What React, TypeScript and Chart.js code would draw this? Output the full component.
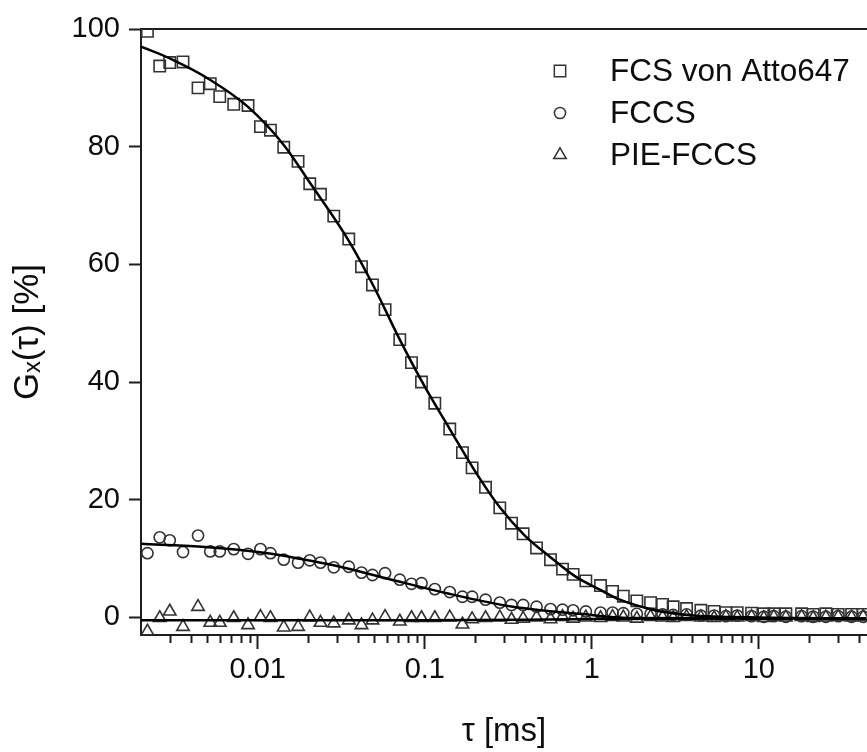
import React, { useEffect, useRef } from 'react';
import { Chart, registerables } from 'chart.js';
import { drawPoint } from 'chart.js/helpers';

Chart.register(...registerables);

// lag times tau [ms] shared by the three measured curves
const tau = [
  0.002185, 0.002589, 0.002972, 0.003569, 0.00439, 0.005195, 0.005923, 0.007181, 0.008747, 0.01038,
  0.01191, 0.01431, 0.01743, 0.02048, 0.02374, 0.02852, 0.03507, 0.04178, 0.04862, 0.05785,
  0.07084, 0.08325, 0.09556, 0.1148, 0.1411, 0.1681, 0.192, 0.231, 0.2812, 0.3305,
  0.3879, 0.4667, 0.5658, 0.6677, 0.7727, 0.9207, 1.127, 1.331, 1.544, 1.86,
  2.247, 2.651, 3.068, 3.691, 4.496, 5.398, 6.344, 7.418, 9.044, 10.71,
  12.29, 14.51, 18.02, 21.14, 25.19, 29.86, 35.92, 42.13,
];

const fcsAtto = [
  99.6, 93.7, 94.3, 94.4, 90.0, 90.7, 88.5, 87.2, 87.0, 83.4,
  82.8, 79.9, 77.5, 73.7, 71.9, 68.2, 64.3, 59.6, 56.5, 52.3,
  47.2, 43.3, 40.0, 36.4, 32.0, 28.0, 25.4, 22.1, 18.6, 16.0,
  14.2, 11.8, 9.8, 8.2, 7.3, 6.2, 5.4, 4.4, 3.6, 2.8,
  2.5, 2.2, 1.8, 1.5, 1.2, 1.0, 0.8, 0.8, 0.7, 0.6,
  0.6, 0.6, 0.6, 0.5, 0.6, 0.5, 0.5, 0.5,
];

const fccs = [
  10.9, 13.6, 13.1, 11.1, 13.9, 11.2, 11.2, 11.6, 10.8, 11.6,
  10.9, 9.8, 9.3, 9.7, 9.3, 8.5, 8.6, 7.6, 7.2, 7.5,
  6.4, 5.7, 5.8, 4.8, 4.3, 3.5, 3.5, 3.0, 2.5, 2.1,
  2.1, 1.8, 1.4, 1.3, 1.2, 1.0, 0.8, 0.8, 0.7, 0.6,
  0.6, 0.5, 0.4, 0.5, 0.3, 0.3, 0.2, 0.3, 0.2, 0.1,
  0.2, 0.1, 0.2, 0.1, 0.1, 0.2, 0.1, 0.1,
];

const pieFccs = [
  -2.4, -0.1, 1.0, -1.6, 1.8, -0.9, -0.9, -0.1, -1.3, 0.1,
  -0.1, -1.7, -1.6, 0.0, -0.9, -1.0, -0.5, -1.3, -0.5, 0.1,
  -0.7, -0.1, -0.1, -0.1, 0.0, -1.2, -0.3, -0.1, 0.0, -0.4,
  -0.2, 0.0, -0.3, 0.1, -0.2, 0.0, -0.1, 0.1, 0.0, -0.2,
  0.1, 0.0, -0.1, 0.1, 0.0, -0.1, 0.1, 0.0, 0.1, -0.1,
  0.1, 0.0, 0.1, -0.1, 0.0, 0.1, 0.0, 0.1,
];

// fitted curves
const fitTauFcs = [0.002, 0.002972, 0.005232, 0.008711, 0.01431, 0.02048, 0.03507, 0.05019, 0.07084, 0.1, 0.1411, 0.1993, 0.2812, 0.397, 0.5603, 0.7911, 1.117, 1.472, 2.319, 3.706, 8.834, 44];
const fitFcs = [97.0, 95.0, 91.3, 86.8, 80.3, 73.9, 64.0, 55.9, 47.2, 39.2, 32.0, 24.9, 18.7, 13.9, 10.3, 7.0, 4.7, 3.0, 1.3, 0.4, 0.0, -0.2];

const fitTauFccs = [0.002, 0.004621, 0.01148, 0.01834, 0.02891, 0.05762, 0.1354, 0.3364, 0.8474, 1.689, 44];
const fitFccs = [12.5, 12.0, 10.9, 9.9, 8.8, 6.7, 4.1, 1.8, 0.6, -0.1, -0.2];

const fitTauPie = [0.002, 0.1, 1, 10, 44];
const fitPie = [-0.5, -0.5, -0.3, -0.2, -0.2];

const seriesLabels = ['FCS von Atto647', 'FCCS', 'PIE-FCCS'];
const xMajorTicks = [0.01, 0.1, 1, 10];
const xMinorTicks = [
  0.003, 0.004, 0.005, 0.006, 0.007, 0.008, 0.009,
  0.02, 0.03, 0.04, 0.05, 0.06, 0.07, 0.08, 0.09,
  0.2, 0.3, 0.4, 0.5, 0.6, 0.7, 0.8, 0.9,
  2, 3, 4, 5, 6, 7, 8, 9,
  20, 30, 40,
];
const yTicks = [0, 20, 40, 60, 80, 100];

const X_MIN = 0.002;
const X_MAX = 44.4;
const Y_MIN = -3;
const Y_MAX = 100;

const FONT = "'Liberation Sans', Arial, Helvetica, sans-serif";
const AXIS = '#1e1e1e';
const TEXT = '#0d0d0d';
const MARK = '#333333';

const insetLegend = {
  id: 'insetLegend',
  afterDraw(chart: any) {
    const ctx = chart.ctx;
    ctx.save();
    ctx.font = `31.5px ${FONT}`;
    ctx.textBaseline = 'middle';
    ctx.textAlign = 'left';
    const rows = [71, 113, 155];
    for (let i = 0; i < 3; i++) {
      const ds = chart.data.datasets[i];
      ctx.strokeStyle = MARK;
      ctx.fillStyle = 'rgba(0,0,0,0)';
      ctx.lineWidth = 1.5;
      drawPoint(ctx, { pointStyle: ds.pointStyle, radius: ds.pointRadius, borderWidth: 1.5, rotation: 0 }, 560, rows[i]);
      ctx.fillStyle = TEXT;
      ctx.fillText(ds.label, 610, rows[i] + 1);
    }
    ctx.restore();
  },
};

export default function App() {
  const ref = useRef<HTMLCanvasElement>(null);

  useEffect(() => {
    const canvas = ref.current;
    if (!canvas) return;
    const pts = (ys: number[]) => ys.map((y, i) => ({ x: tau[i], y }));
    const fit = (xs: number[], ys: number[]) => xs.map((x, i) => ({ x, y: ys[i] }));
    const marker = (label: string, data: number[], style: string, radius: number) => ({
      label,
      data: pts(data),
      pointStyle: style,
      pointRadius: radius,
      pointBorderWidth: 1.6,
      pointBorderColor: MARK,
      pointBackgroundColor: 'rgba(0,0,0,0)',
      borderColor: MARK,
      backgroundColor: 'rgba(0,0,0,0)',
      showLine: false,
      order: 1,
    });
    const fitLine = (xs: number[], ys: number[]) => ({
      label: 'fit',
      data: fit(xs, ys),
      showLine: true,
      pointRadius: 0,
      borderColor: '#000000',
      borderWidth: 2.5,
      cubicInterpolationMode: 'monotone',
      fill: false,
      order: 0,
    });

    const tickFont = { family: FONT, size: 29 };
    const xTitleFont = { family: FONT, size: 33 };
    const yTitleFont = { family: FONT, size: 35 };

    const chart = new Chart(canvas, {
      type: 'scatter',
      data: {
        datasets: [
          marker(seriesLabels[0], fcsAtto, 'rect', 8),
          marker(seriesLabels[1], fccs, 'circle', 5.6),
          marker(seriesLabels[2], pieFccs, 'triangle', 7.2),
          fitLine(fitTauFcs, fitFcs),
          fitLine(fitTauFccs, fitFccs),
          fitLine(fitTauPie, fitPie),
        ] as any,
      },
      options: {
        responsive: false,
        animation: false,
        layout: { padding: 0, autoPadding: false },
        plugins: { legend: { display: false }, tooltip: { enabled: false } },
        scales: {
          x: {
            type: 'logarithmic',
            position: 'bottom',
            weight: 1,
            min: X_MIN,
            max: X_MAX,
            afterBuildTicks: (s: any) => {
              s.ticks = xMajorTicks.map((v) => ({ value: v, major: true }));
            },
            afterFit: (s: any) => {
              s.height = 117;
              s.paddingLeft = 0;
              s.paddingRight = 0;
            },
            ticks: {
              autoSkip: false,
              maxRotation: 0,
              padding: 4,
              color: TEXT,
              font: tickFont,
              callback: (v: any) => String(v),
            },
            grid: { drawOnChartArea: false, drawTicks: true, tickLength: 14, tickWidth: 2, tickColor: AXIS },
            border: { display: true, width: 2, color: AXIS },
            title: { display: true, text: 'τ [ms]', color: TEXT, font: xTitleFont, padding: { top: 0, bottom: 0 } },
          },
          xMinor: {
            type: 'logarithmic',
            position: 'bottom',
            weight: 0,
            min: X_MIN,
            max: X_MAX,
            afterBuildTicks: (s: any) => {
              s.ticks = xMinorTicks.map((v) => ({ value: v }));
            },
            afterFit: (s: any) => {
              s.height = 0;
              s.paddingLeft = 0;
              s.paddingRight = 0;
            },
            ticks: { display: false, autoSkip: false },
            grid: { drawOnChartArea: false, drawTicks: true, tickLength: 8, tickWidth: 2, tickColor: AXIS },
            border: { display: false },
          },
          xTop: {
            type: 'logarithmic',
            position: 'top',
            min: X_MIN,
            max: X_MAX,
            afterFit: (s: any) => {
              s.height = 29;
              s.paddingLeft = 0;
              s.paddingRight = 0;
            },
            ticks: { display: false },
            grid: { display: false },
            border: { display: true, width: 2, color: AXIS },
          },
          y: {
            type: 'linear',
            min: Y_MIN,
            max: Y_MAX,
            afterBuildTicks: (s: any) => {
              s.ticks = yTicks.map((v) => ({ value: v }));
            },
            afterFit: (s: any) => {
              s.width = 141;
              s.paddingTop = 0;
              s.paddingBottom = 0;
            },
            ticks: { padding: 9, color: TEXT, font: tickFont },
            grid: { drawOnChartArea: false, drawTicks: true, tickLength: 12, tickWidth: 2, tickColor: AXIS },
            border: { display: true, width: 2, color: AXIS },
            title: { display: true, text: 'Gₓ(τ) [%]', color: TEXT, font: yTitleFont, padding: { top: 7, bottom: 0 } },
          },
        },
      } as any,
      plugins: [insetLegend],
    });
    return () => chart.destroy();
  }, []);

  return (
    <div style={{ position: 'absolute', left: 0, top: 0, width: 867, height: 752, background: '#fff' }}>
      <canvas ref={ref} width={867} height={752} style={{ display: 'block' }} />
    </div>
  );
}
